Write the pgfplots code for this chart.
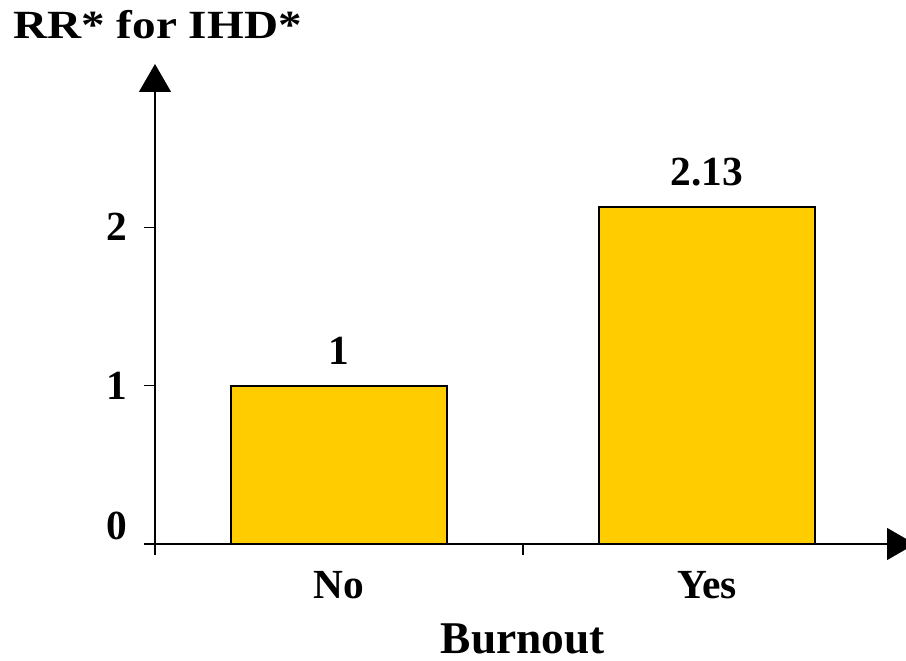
\documentclass[border=0pt]{standalone}
\usepackage{pgfplots}
\pgfplotsset{compat=1.18}
\usepackage{fontspec}
\setmainfont{Liberation Serif}
\usetikzlibrary{arrows.meta}
\definecolor{barc}{HTML}{FFCC00}
\begin{document}
\begin{tikzpicture}
\begin{axis}[
  at={(0,0)}, anchor=south west,
  scale only axis, width=380pt, height=240pt,
  xmin=-0.5, xmax=1.565, ymin=0, ymax=3.03,
  axis lines=left,
  axis line style={line width=0.7pt, -{Triangle[length=14pt,width=16pt]}},
  ytick={1,2},
  extra y ticks={0}, extra y tick labels={0},
  extra y tick style={yticklabel style={yshift=9pt}},
  tick align=outside,
  major tick length=5.5pt,
  tick style={black, line width=0.6pt},
  /pgf/number format/assume math mode=true,
  ticklabel style={font=\fontsize{20.7}{24}\selectfont\bfseries},
  yticklabel style={inner sep=0pt, anchor=east, xshift=-8pt},
  xtick={-0.5,0.5}, xticklabels={,},
  extra x ticks={0,1}, extra x tick labels={No,Yes},
  extra x tick style={major tick length=0pt, tick style={draw=none},
    xticklabel style={inner sep=0pt, anchor=north, yshift=-13.5pt}},
  xlabel={Burnout},
  xlabel style={at={(rel axis cs:0.4842,0)}, anchor=north, inner sep=0pt, yshift=-39.5pt,
    font=\fontsize{22.7}{26}\selectfont\bfseries},
  clip=false,
]
\addplot[ybar, bar width=108pt, fill=barc, draw=black, line width=1pt,
  point meta=explicit symbolic,
  nodes near coords,
  nodes near coords style={anchor=base, inner sep=0pt, yshift=10.5pt,
    font=\fontsize{20.7}{24}\selectfont\bfseries, text=black}]
  coordinates {(0,1) [1] (1,2.13) [2.13]};
\node[anchor=base west, inner sep=0pt, font=\fontsize{20}{23}\selectfont\bfseries]
  at ([shift={(-71pt,12.5pt)}]rel axis cs:0,1) {\scalebox{1.18}[1]{RR* for IHD*}};
\end{axis}
\pgfresetboundingbox
\useasboundingbox (-77.5pt,-58pt) rectangle (375.5pt,272pt);
\end{tikzpicture}
\end{document}
